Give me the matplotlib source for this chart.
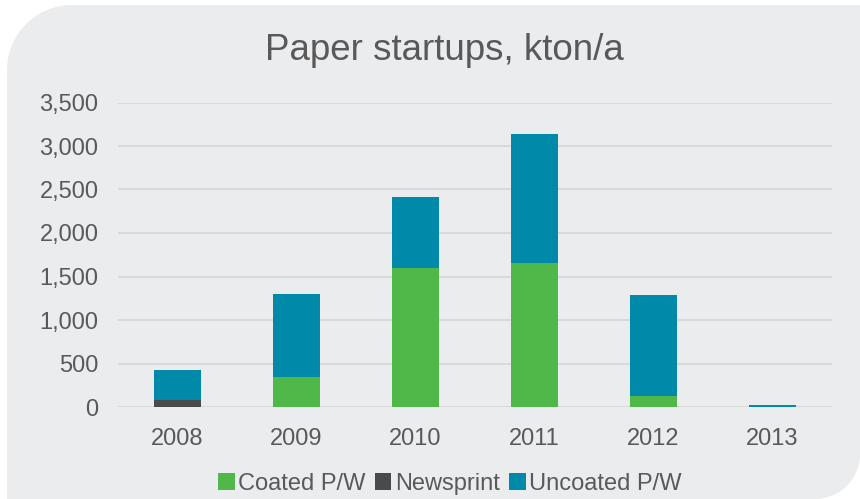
import numpy as np
import matplotlib.pyplot as plt
from matplotlib.patches import PathPatch
from matplotlib.path import Path

plt.rcParams["font.family"] = ["Liberation Sans", "DejaVu Sans"]

YEARS = ["2008", "2009", "2010", "2011", "2012", "2013"]
COATED = [0, 345, 1600, 1650, 130, 0]
NEWSPRINT = [75, 0, 0, 0, 0, 0]
UNCOATED = [345, 955, 810, 1490, 1160, 25]

SERIES = ["Coated P/W", "Newsprint", "Uncoated P/W"]
COLORS = ["#50b848", "#4a4a4c", "#0089a8"]

BG = "#ebecee"
TEXT = "#595959"
GRID = "#d9d9d9"

W, H = 860, 499


def rounded_shape(x0, y0, x1, y1, r_tl, r_br):
    # outline in pixel coords (origin top-left), rounded top-left and bottom-right
    pts = []
    t = np.linspace(np.pi, 1.5 * np.pi, 20)
    cx, cy = x0 + r_tl, y0 + r_tl
    pts += list(zip(cx + r_tl * np.cos(t), cy + r_tl * np.sin(t)))
    pts.append((x1, y0))
    t = np.linspace(0, 0.5 * np.pi, 20)
    cx, cy = x1 - r_br, y1 - r_br
    pts += list(zip(cx + r_br * np.cos(t), cy + r_br * np.sin(t)))
    pts.append((x0, y1))
    pts.append(pts[0])
    return [(px / W, 1 - py / H) for px, py in pts]


fig = plt.figure(figsize=(W / 100, H / 100), dpi=100)
fig.patch.set_facecolor("white")

verts = rounded_shape(7, 5, 860, 499, 65, 45)
fig.patches.append(PathPatch(Path(verts), facecolor=BG, edgecolor="none",
                             transform=fig.transFigure, zorder=-5))

ax = fig.add_axes([118 / W, 1 - 407 / H, 714 / W, 304.5 / H])
ax.set_facecolor("none")

x = np.arange(len(YEARS))
bottom = np.zeros(len(YEARS))
for name, vals, col in zip(SERIES, [COATED, NEWSPRINT, UNCOATED], COLORS):
    ax.bar(x, vals, width=0.4, bottom=bottom, color=col, label=name, zorder=3)
    bottom += np.array(vals)

ax.set_xlim(-0.5, len(YEARS) - 0.5)
ax.set_ylim(0, 3500)
ax.set_yticks(np.arange(0, 3501, 500))
ax.yaxis.set_major_formatter(plt.FuncFormatter(lambda v, p: f"{int(v):,}"))
ax.set_xticks(x)
ax.set_xticklabels(YEARS)
ax.grid(axis="y", color=GRID, linewidth=1.5, zorder=0)
ax.tick_params(axis="both", length=0, labelsize=17, labelcolor=TEXT)
ax.tick_params(axis="x", pad=15)
ax.tick_params(axis="y", pad=14)
for s in ax.spines.values():
    s.set_visible(False)

fig.text(444 / W, 1 - 50 / H, "Paper startups, kton/a", ha="center", va="center",
         fontsize=26.5, color=TEXT)

fig.legend(loc="center", bbox_to_anchor=(450 / W, 1 - 484 / H), ncol=3, frameon=False,
           fontsize=17, labelcolor=TEXT, handlelength=0.7, handleheight=0.7,
           handletextpad=0.15, columnspacing=0.4)

fig.savefig("out.png", dpi=100)
